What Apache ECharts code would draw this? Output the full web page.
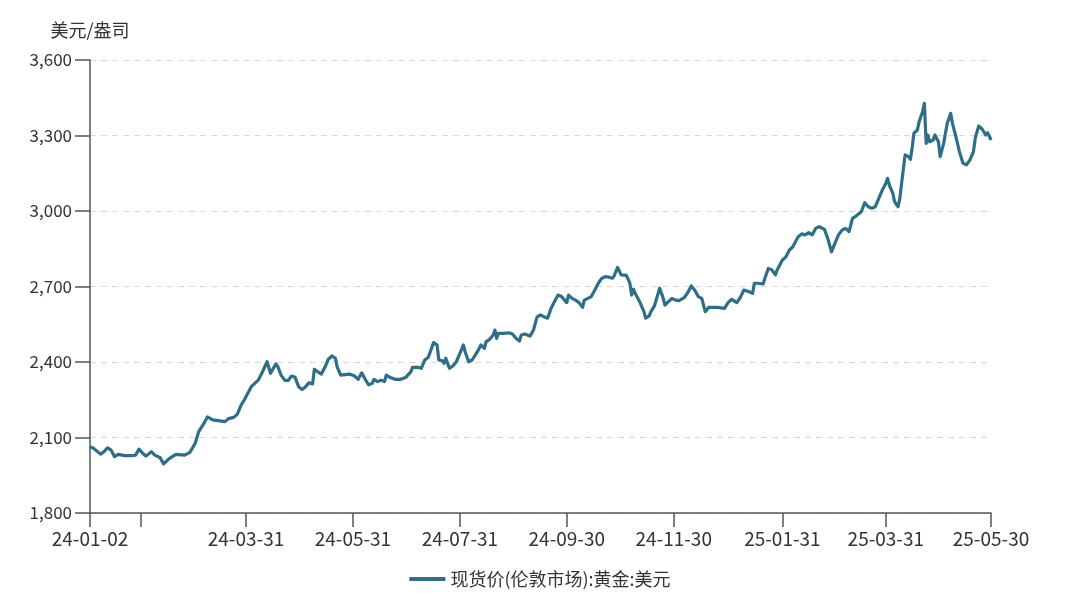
<!DOCTYPE html>
<html>
<head>
<meta charset="utf-8">
<script src="https://cdn.jsdelivr.net/npm/echarts@6/dist/echarts.min.js"></script>
<style>
html,body{margin:0;padding:0;background:#fff;}
#chart{width:1080px;height:596px;}
</style>
</head>
<body>
<div id="chart"></div>
<script>
// ---- data ----
const seriesName = '现货价(伦敦市场):黄金:美元';
const yUnit = '美元/盎司';
const dates = [
'2024-01-02','2024-01-04','2024-01-08','2024-01-10','2024-01-12','2024-01-14','2024-01-16','2024-01-18','2024-01-22','2024-01-26',
'2024-01-28','2024-01-30','2024-02-01','2024-02-03','2024-02-06','2024-02-08','2024-02-11','2024-02-13','2024-02-16','2024-02-18',
'2024-02-20','2024-02-25','2024-02-28','2024-03-02','2024-03-04','2024-03-07','2024-03-09','2024-03-12','2024-03-19','2024-03-21',
'2024-03-24','2024-03-26','2024-03-28','2024-03-30','2024-04-03','2024-04-07','2024-04-09','2024-04-10','2024-04-12','2024-04-14',
'2024-04-17','2024-04-18','2024-04-20','2024-04-22','2024-04-24','2024-04-26','2024-04-28','2024-04-30','2024-05-02','2024-05-04',
'2024-05-06','2024-05-08','2024-05-09','2024-05-11','2024-05-13','2024-05-15','2024-05-17','2024-05-19','2024-05-21','2024-05-22',
'2024-05-24','2024-05-29','2024-06-01','2024-06-03','2024-06-05','2024-06-07','2024-06-09','2024-06-11','2024-06-12','2024-06-14',
'2024-06-16','2024-06-18','2024-06-19','2024-06-21','2024-06-24','2024-06-27','2024-06-30','2024-07-03','2024-07-04','2024-07-07',
'2024-07-09','2024-07-11','2024-07-13','2024-07-14','2024-07-16','2024-07-18','2024-07-19','2024-07-21','2024-07-22','2024-07-23',
'2024-07-25','2024-07-27','2024-07-29','2024-08-01','2024-08-02','2024-08-03','2024-08-05','2024-08-07','2024-08-10','2024-08-12',
'2024-08-14','2024-08-15','2024-08-17','2024-08-19','2024-08-20','2024-08-21','2024-08-22','2024-08-25','2024-08-28','2024-08-30',
'2024-09-01','2024-09-03','2024-09-04','2024-09-06','2024-09-09','2024-09-11','2024-09-13','2024-09-15','2024-09-17','2024-09-19',
'2024-09-20','2024-09-21','2024-09-23','2024-09-25','2024-09-27','2024-09-29','2024-09-30','2024-10-01','2024-10-03','2024-10-05',
'2024-10-07','2024-10-09','2024-10-10','2024-10-12','2024-10-14','2024-10-16','2024-10-18','2024-10-20','2024-10-22','2024-10-24',
'2024-10-26','2024-10-27','2024-10-29','2024-10-31','2024-11-01','2024-11-03','2024-11-05','2024-11-06','2024-11-07','2024-11-08',
'2024-11-11','2024-11-13','2024-11-14','2024-11-16','2024-11-17','2024-11-19','2024-11-22','2024-11-24','2024-11-25','2024-11-27',
'2024-11-29','2024-12-01','2024-12-03','2024-12-04','2024-12-06','2024-12-08','2024-12-10','2024-12-12','2024-12-14','2024-12-16',
'2024-12-17','2024-12-18','2024-12-20','2024-12-23','2024-12-25','2024-12-29','2024-12-31','2025-01-02','2025-01-05','2025-01-07',
'2025-01-09','2025-01-12','2025-01-14','2025-01-15','2025-01-17','2025-01-20','2025-01-21','2025-01-23','2025-01-25','2025-01-27',
'2025-01-28','2025-01-31','2025-02-02','2025-02-03','2025-02-04','2025-02-06','2025-02-07','2025-02-09','2025-02-11','2025-02-13',
'2025-02-15','2025-02-17','2025-02-19','2025-02-21','2025-02-22','2025-02-24','2025-02-26','2025-02-28','2025-03-02','2025-03-04',
'2025-03-06','2025-03-08','2025-03-10','2025-03-12','2025-03-14','2025-03-17','2025-03-19','2025-03-20','2025-03-21','2025-03-23',
'2025-03-25','2025-03-26','2025-03-27','2025-03-29','2025-03-31','2025-04-01','2025-04-02','2025-04-04','2025-04-05','2025-04-07',
'2025-04-08','2025-04-09','2025-04-11','2025-04-13','2025-04-14','2025-04-15','2025-04-16','2025-04-18','2025-04-19','2025-04-21',
'2025-04-22','2025-04-23','2025-04-24','2025-04-25','2025-04-27','2025-04-28','2025-04-30','2025-05-01','2025-05-03','2025-05-05',
'2025-05-07','2025-05-08','2025-05-10','2025-05-12','2025-05-14','2025-05-16','2025-05-18','2025-05-20','2025-05-21','2025-05-23',
'2025-05-25','2025-05-27','2025-05-28','2025-05-29','2025-05-30'
];
const prices = [
2063,2057,2034,2044,2059,2050,2024,2033,2028,2028,
2030,2054,2037,2026,2044,2030,2020,1995,2015,2024,
2033,2030,2041,2077,2123,2156,2182,2170,2163,2175,
2180,2192,2226,2249,2302,2328,2355,2348,2401,2355,
2392,2384,2348,2328,2326,2344,2339,2302,2291,2302,
2318,2313,2371,2361,2352,2379,2411,2424,2415,2381,
2348,2352,2344,2331,2357,2331,2309,2315,2331,2322,
2328,2322,2348,2339,2331,2331,2338,2361,2379,2379,
2375,2408,2419,2424,2477,2468,2408,2405,2395,2415,
2375,2384,2401,2450,2468,2441,2401,2408,2441,2468,
2454,2481,2490,2507,2527,2494,2514,2514,2516,2511,
2494,2483,2507,2511,2503,2527,2578,2587,2580,2574,
2593,2613,2640,2666,2660,2644,2636,2666,2653,2646,
2636,2617,2646,2653,2660,2686,2713,2733,2739,2737,
2733,2742,2776,2746,2750,2744,2713,2666,2689,2673,
2633,2600,2574,2583,2600,2623,2693,2653,2626,2640,
2653,2646,2644,2646,2656,2675,2702,2685,2660,2653,
2626,2600,2617,2617,2617,2613,2636,2649,2636,2657,
2686,2679,2673,2713,2713,2710,2733,2772,2766,2746,
2766,2805,2818,2825,2845,2858,2872,2898,2909,2905,
2914,2905,2931,2938,2935,2927,2888,2838,2872,2905,
2924,2931,2918,2971,2980,2997,3033,3031,3017,3011,
3017,3024,3050,3083,3110,3130,3103,3070,3037,3017,
3050,3110,3223,3216,3205,3249,3309,3322,3355,3395,
3428,3269,3302,3275,3282,3302,3275,3216,3269,3348,
3388,3348,3295,3236,3190,3183,3203,3236,3289,3338,
3325,3302,3311,3298,3282
];
const xMin = '2024-01-02';
const xMax = '2025-05-30';
const tickDates = ['2024-01-02','2024-01-31','2024-03-31','2024-05-31','2024-07-31','2024-09-30','2024-11-30','2025-01-31','2025-03-31','2025-05-30'];
const labelDates = ['2024-01-02','2024-03-31','2024-05-31','2024-07-31','2024-09-30','2024-11-30','2025-01-31','2025-03-31','2025-05-30'];
const yMin = 1800, yMax = 3600, yStep = 300;

// ---- helpers ----
function ts(s){ const p = s.split('-').map(Number); return Date.UTC(p[0], p[1]-1, p[2]); }
function pad(n){ return (n<10?'0':'')+n; }
function fmtDate(v){ const d = new Date(v); return pad(d.getUTCFullYear()%100)+'-'+pad(d.getUTCMonth()+1)+'-'+pad(d.getUTCDate()); }

const FONT = '"Noto Sans CJK SC","Noto Sans",sans-serif';
const LINE_COLOR = '#2e6e87';
const AXIS_COLOR = '#555555';
const TEXT_COLOR = '#333333';

const chart = echarts.init(document.getElementById('chart'), null, {renderer:'canvas'});
chart.setOption({
  animation: false,
  textStyle: { fontFamily: FONT },
  grid: { left: 90, right: 89, top: 60, bottom: 83, containLabel: false },
  legend: {
    data: [seriesName],
    left: 'center',
    top: 565,
    icon: 'rect',
    itemWidth: 36,
    itemHeight: 4,
    itemGap: 10,
    textStyle: { fontSize: 18, color: TEXT_COLOR, fontFamily: FONT }
  },
  xAxis: {
    type: 'value',
    min: ts(xMin),
    max: ts(xMax),
    axisLine: { show: true, onZero: false, lineStyle: { color: AXIS_COLOR, width: 1.5 } },
    axisTick: { show: true, length: 14, customValues: tickDates.map(ts), lineStyle: { color: AXIS_COLOR, width: 1.5 } },
    axisLabel: {
      customValues: labelDates.map(ts),
      formatter: function(v){ return fmtDate(v); },
      fontSize: 19, color: TEXT_COLOR, margin: 16, fontFamily: FONT,
      showMinLabel: true, showMaxLabel: true
    },
    splitLine: { show: false }
  },
  yAxis: {
    type: 'value',
    min: yMin, max: yMax, interval: yStep,
    name: yUnit,
    nameLocation: 'end',
    nameGap: 21,
    nameTextStyle: { fontSize: 18, color: TEXT_COLOR, align: 'center', fontFamily: FONT },
    axisLine: { show: true, lineStyle: { color: AXIS_COLOR, width: 1.5 } },
    axisTick: { show: true, length: 15, lineStyle: { color: AXIS_COLOR, width: 1.5 } },
    axisLabel: {
      formatter: function(v){ return v.toLocaleString('en-US'); },
      fontSize: 17, color: TEXT_COLOR, margin: 18, fontFamily: FONT
    },
    splitLine: { show: true, lineStyle: { color: '#d9d9d9', type: [6, 5], width: 1 } }
  },
  series: [{
    name: seriesName,
    type: 'line',
    data: dates.map((d, i) => [ts(d), prices[i]]),
    showSymbol: false,
    symbol: 'none',
    lineStyle: { color: LINE_COLOR, width: 3.2, join: 'round' },
    itemStyle: { color: LINE_COLOR }
  }]
});
</script>
</body>
</html>
